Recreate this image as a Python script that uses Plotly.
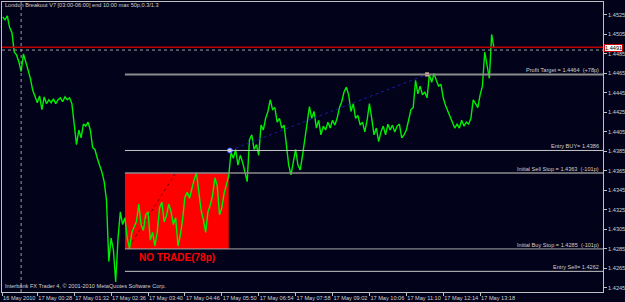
import plotly.graph_objects as go

# ---------------- data ----------------
# time in minutes from 17 May 2010 00:00 (4-minute samples, first sample 16 May 23:28)
minutes = list(range(-32, 821, 4))
close = [
    1.4523, 1.4520, 1.4524, 1.4512, 1.4507, 1.4487, 1.4484, 1.4477, 1.4467, 1.4485,
    1.4477, 1.4469, 1.4460, 1.4448, 1.4441, 1.4435, 1.4442, 1.4428, 1.4441, 1.4434,
    1.4438, 1.4435, 1.4439, 1.4434, 1.4438, 1.4440, 1.4436, 1.4441, 1.4438, 1.4440,
    1.4434, 1.4409, 1.4392, 1.4407, 1.4399, 1.4413, 1.4411, 1.4415, 1.4407, 1.4389,
    1.4387, 1.4378, 1.4371, 1.4364, 1.4354, 1.4335, 1.4272, 1.4296, 1.4284, 1.4251,
    1.4296, 1.4323, 1.4310, 1.4317, 1.4296, 1.4285, 1.4302, 1.4307, 1.4313, 1.4331,
    1.4310, 1.4304, 1.4320, 1.4323, 1.4294, 1.4302, 1.4288, 1.4302, 1.4327, 1.4333,
    1.4313, 1.4319, 1.4331, 1.4323, 1.4310, 1.4317, 1.4288, 1.4299, 1.4315, 1.4338,
    1.4343, 1.4337, 1.4348, 1.4356, 1.4363, 1.4343, 1.4325, 1.4315, 1.4302, 1.4323,
    1.4330, 1.4340, 1.4358, 1.4350, 1.4320, 1.4327, 1.4342, 1.4351, 1.4360, 1.4384,
    1.4378, 1.4387, 1.4371, 1.4381, 1.4374, 1.4364, 1.4354, 1.4397, 1.4402, 1.4387,
    1.4392, 1.4381, 1.4412, 1.4407, 1.4419, 1.4426, 1.4438, 1.4428, 1.4430, 1.4415,
    1.4419, 1.4409, 1.4412, 1.4392, 1.4371, 1.4361, 1.4376, 1.4387, 1.4371, 1.4366,
    1.4381, 1.4397, 1.4415, 1.4431, 1.4419, 1.4426, 1.4409, 1.4417, 1.4402, 1.4411,
    1.4407, 1.4415, 1.4409, 1.4417, 1.4412, 1.4419, 1.4430, 1.4436, 1.4446, 1.4451,
    1.4443, 1.4426, 1.4434, 1.4419, 1.4422, 1.4412, 1.4415, 1.4405, 1.4417, 1.4434,
    1.4419, 1.4402, 1.4409, 1.4395, 1.4405, 1.4411, 1.4402, 1.4413, 1.4407, 1.4412,
    1.4405, 1.4411, 1.4413, 1.4399, 1.4402, 1.4407, 1.4417, 1.4428, 1.4430, 1.4458,
    1.4444, 1.4452, 1.4443, 1.4446, 1.4440, 1.4464, 1.4456, 1.4465, 1.4458, 1.4452,
    1.4454, 1.4440, 1.4432, 1.4426, 1.4422, 1.4415, 1.4409, 1.4413, 1.4409, 1.4417,
    1.4411, 1.4415, 1.4413, 1.4419, 1.4438, 1.4434, 1.4430, 1.4443, 1.4452, 1.4487,
    1.4471, 1.4460, 1.4505, 1.4491,
]

session_start = 180   # 03:00
session_end = 360     # 06:00
range_high = 1.4363
range_low = 1.4285
bid_price = 1.4491
bid_line = 1.4492
cross_price = 1.4489
day_separator = 0     # 17 May 00:00

level_prices = [1.4464, 1.4386, 1.4363, 1.4285, 1.4262]
level_labels = [
    "Profit Target = 1.4464  (+78p)",
    "Entry BUY= 1.4386",
    "Initial Sell Stop = 1.4363  (-101p)",
    "Initial Buy Stop = 1.4285  (-101p)",
    "Entry Sell= 1.4262",
]
level_colors = ["#8c8c8c", "#c8c8c8", "#8c8c8c", "#a8a8a8", "#c8c8c8"]
level_widths = [2, 1, 1.5, 1, 1]

trade_times = [362, 704]          # buy entry 06:02, target hit 11:44
trade_prices = [1.4386, 1.4464]
range_line_times = [187, 267]
range_line_prices = [1.4287, 1.4362]

y_ticks = [1.4525, 1.4505, 1.4485, 1.4465, 1.4445, 1.4425, 1.4405, 1.4385,
           1.4365, 1.4345, 1.4325, 1.4305, 1.4285, 1.4265, 1.4245]
x_tick_vals = [-33, 28, 92, 156, 220, 284, 348, 412, 476, 540, 604, 668, 732, 796]
x_tick_text = ["16 May 2010", "17 May 00:28", "17 May 01:32", "17 May 02:36",
               "17 May 03:40", "17 May 04:46", "17 May 05:50", "17 May 06:54",
               "17 May 07:58", "17 May 09:02", "17 May 10:06", "17 May 11:10",
               "17 May 12:14", "17 May 13:18"]

x_range = [-33.2, 1009.1]
y_range = [1.42408, 1.45383]

BG = "#02021a"
TXT = "#d0d0d0"
FONT = "Liberation Sans"
FS = 5.6

# ---------------- figure ----------------
fig = go.Figure()

# range-line inside the box (dotted dark red)
fig.add_trace(go.Scatter(x=range_line_times, y=range_line_prices, mode="lines",
                         line=dict(color="#700000", width=1, dash="dot"),
                         hoverinfo="skip", showlegend=False))

# price line
fig.add_trace(go.Scatter(x=minutes, y=close, mode="lines",
                         line=dict(color="#00ee00", width=1.4),
                         showlegend=False))

# trade line (dotted blue) and markers
fig.add_trace(go.Scatter(x=trade_times, y=trade_prices, mode="lines",
                         line=dict(color="#1a1aa8", width=1, dash="dot"),
                         hoverinfo="skip", showlegend=False))
fig.add_trace(go.Scatter(x=trade_times[:1], y=trade_prices[:1], mode="markers",
                         marker=dict(symbol="circle", size=5, color="#c8d0ff",
                                     line=dict(color="#4050ff", width=1)),
                         showlegend=False))
fig.add_trace(go.Scatter(x=trade_times[1:], y=trade_prices[1:], mode="markers",
                         marker=dict(symbol="square", size=4, color="#ffc8a8",
                                     line=dict(width=0)),
                         showlegend=False))

shapes = []
# red range box
shapes.append(dict(type="rect", xref="x", yref="y", x0=session_start, x1=session_end,
                   y0=range_low, y1=range_high, fillcolor="#ff0000",
                   line=dict(width=0), layer="below"))
# level lines
for p, c, w in zip(level_prices, level_colors, level_widths):
    shapes.append(dict(type="line", xref="x", yref="y", x0=session_start, x1=x_range[1],
                       y0=p, y1=p, line=dict(color=c, width=w), layer="above"))
# bid line
shapes.append(dict(type="line", xref="paper", yref="y", x0=0, x1=1, y0=bid_line, y1=bid_line,
                   line=dict(color="#c00000", width=1.5)))
# crosshair / separators
shapes.append(dict(type="line", xref="paper", yref="y", x0=0, x1=1, y0=cross_price, y1=cross_price,
                   line=dict(color="#a0a0a0", width=1, dash="dot")))
shapes.append(dict(type="line", xref="x", yref="paper", x0=day_separator, x1=day_separator,
                   y0=0, y1=1, line=dict(color="#a0a0a0", width=1, dash="dot")))

annotations = []
for p, t in zip(level_prices, level_labels):
    annotations.append(dict(x=1, xref="paper", y=p, yref="y", text=t, showarrow=False,
                            xanchor="right", yanchor="bottom", xshift=-2, yshift=-1,
                            font=dict(family=FONT, size=FS, color=TXT)))
annotations.append(dict(x=(session_start + session_end) / 2, xref="x", y=range_low, yref="y",
                        text="<b>NO TRADE(78p)</b>", showarrow=False, xanchor="center",
                        yanchor="top", yshift=-1,
                        font=dict(family=FONT, size=10, color="#ff0000")))
annotations.append(dict(x=0.002, xref="paper", y=0.99, yref="paper",
                        text="London Breakout V7 [03:00-06:00] end 10:00 max 50p,0.3/1.3",
                        showarrow=False, xanchor="left", yanchor="middle",
                        font=dict(family=FONT, size=FS, color=TXT)))
annotations.append(dict(x=0.002, xref="paper", y=0.022, yref="paper",
                        text="Interbank FX Trader 4, \u00a9 2001-2010 MetaQuotes Software Corp.",
                        showarrow=False, xanchor="left", yanchor="middle",
                        font=dict(family=FONT, size=FS, color=TXT)))
annotations.append(dict(x=1, xref="paper", y=bid_price, yref="y", text="1.4491",
                        showarrow=False, xanchor="left", yanchor="middle", xshift=1,
                        bgcolor="#ffffff", bordercolor="#d00000", borderwidth=1, borderpad=0,
                        font=dict(family=FONT, size=FS, color="#000000")))

fig.update_layout(
    width=625, height=302,
    margin=dict(l=2, r=22, t=2, b=10, autoexpand=False),
    paper_bgcolor=BG, plot_bgcolor=BG,
    font=dict(family=FONT, size=FS, color=TXT),
    shapes=shapes, annotations=annotations,
    showlegend=False,
    xaxis=dict(range=x_range, tickmode="array", tickvals=x_tick_vals, ticktext=x_tick_text,
               showgrid=False, zeroline=False, showline=True, linecolor="#c0c0c0",
               linewidth=1, mirror=True, ticks="outside", ticklen=3, tickcolor="#c0c0c0",
               ticklabelposition="outside right", tickangle=0, automargin=False,
               tickfont=dict(family=FONT, size=FS, color=TXT)),
    yaxis=dict(range=y_range, side="right", tickmode="array", tickvals=y_ticks,
               ticktext=[f"{v:.4f}" for v in y_ticks], automargin=False,
               showgrid=False, zeroline=False, showline=True, linecolor="#c0c0c0",
               linewidth=1, mirror=True, ticks="outside", ticklen=3, tickcolor="#c0c0c0",
               tickfont=dict(family=FONT, size=FS, color=TXT)),
)

fig.write_html("out.html")
